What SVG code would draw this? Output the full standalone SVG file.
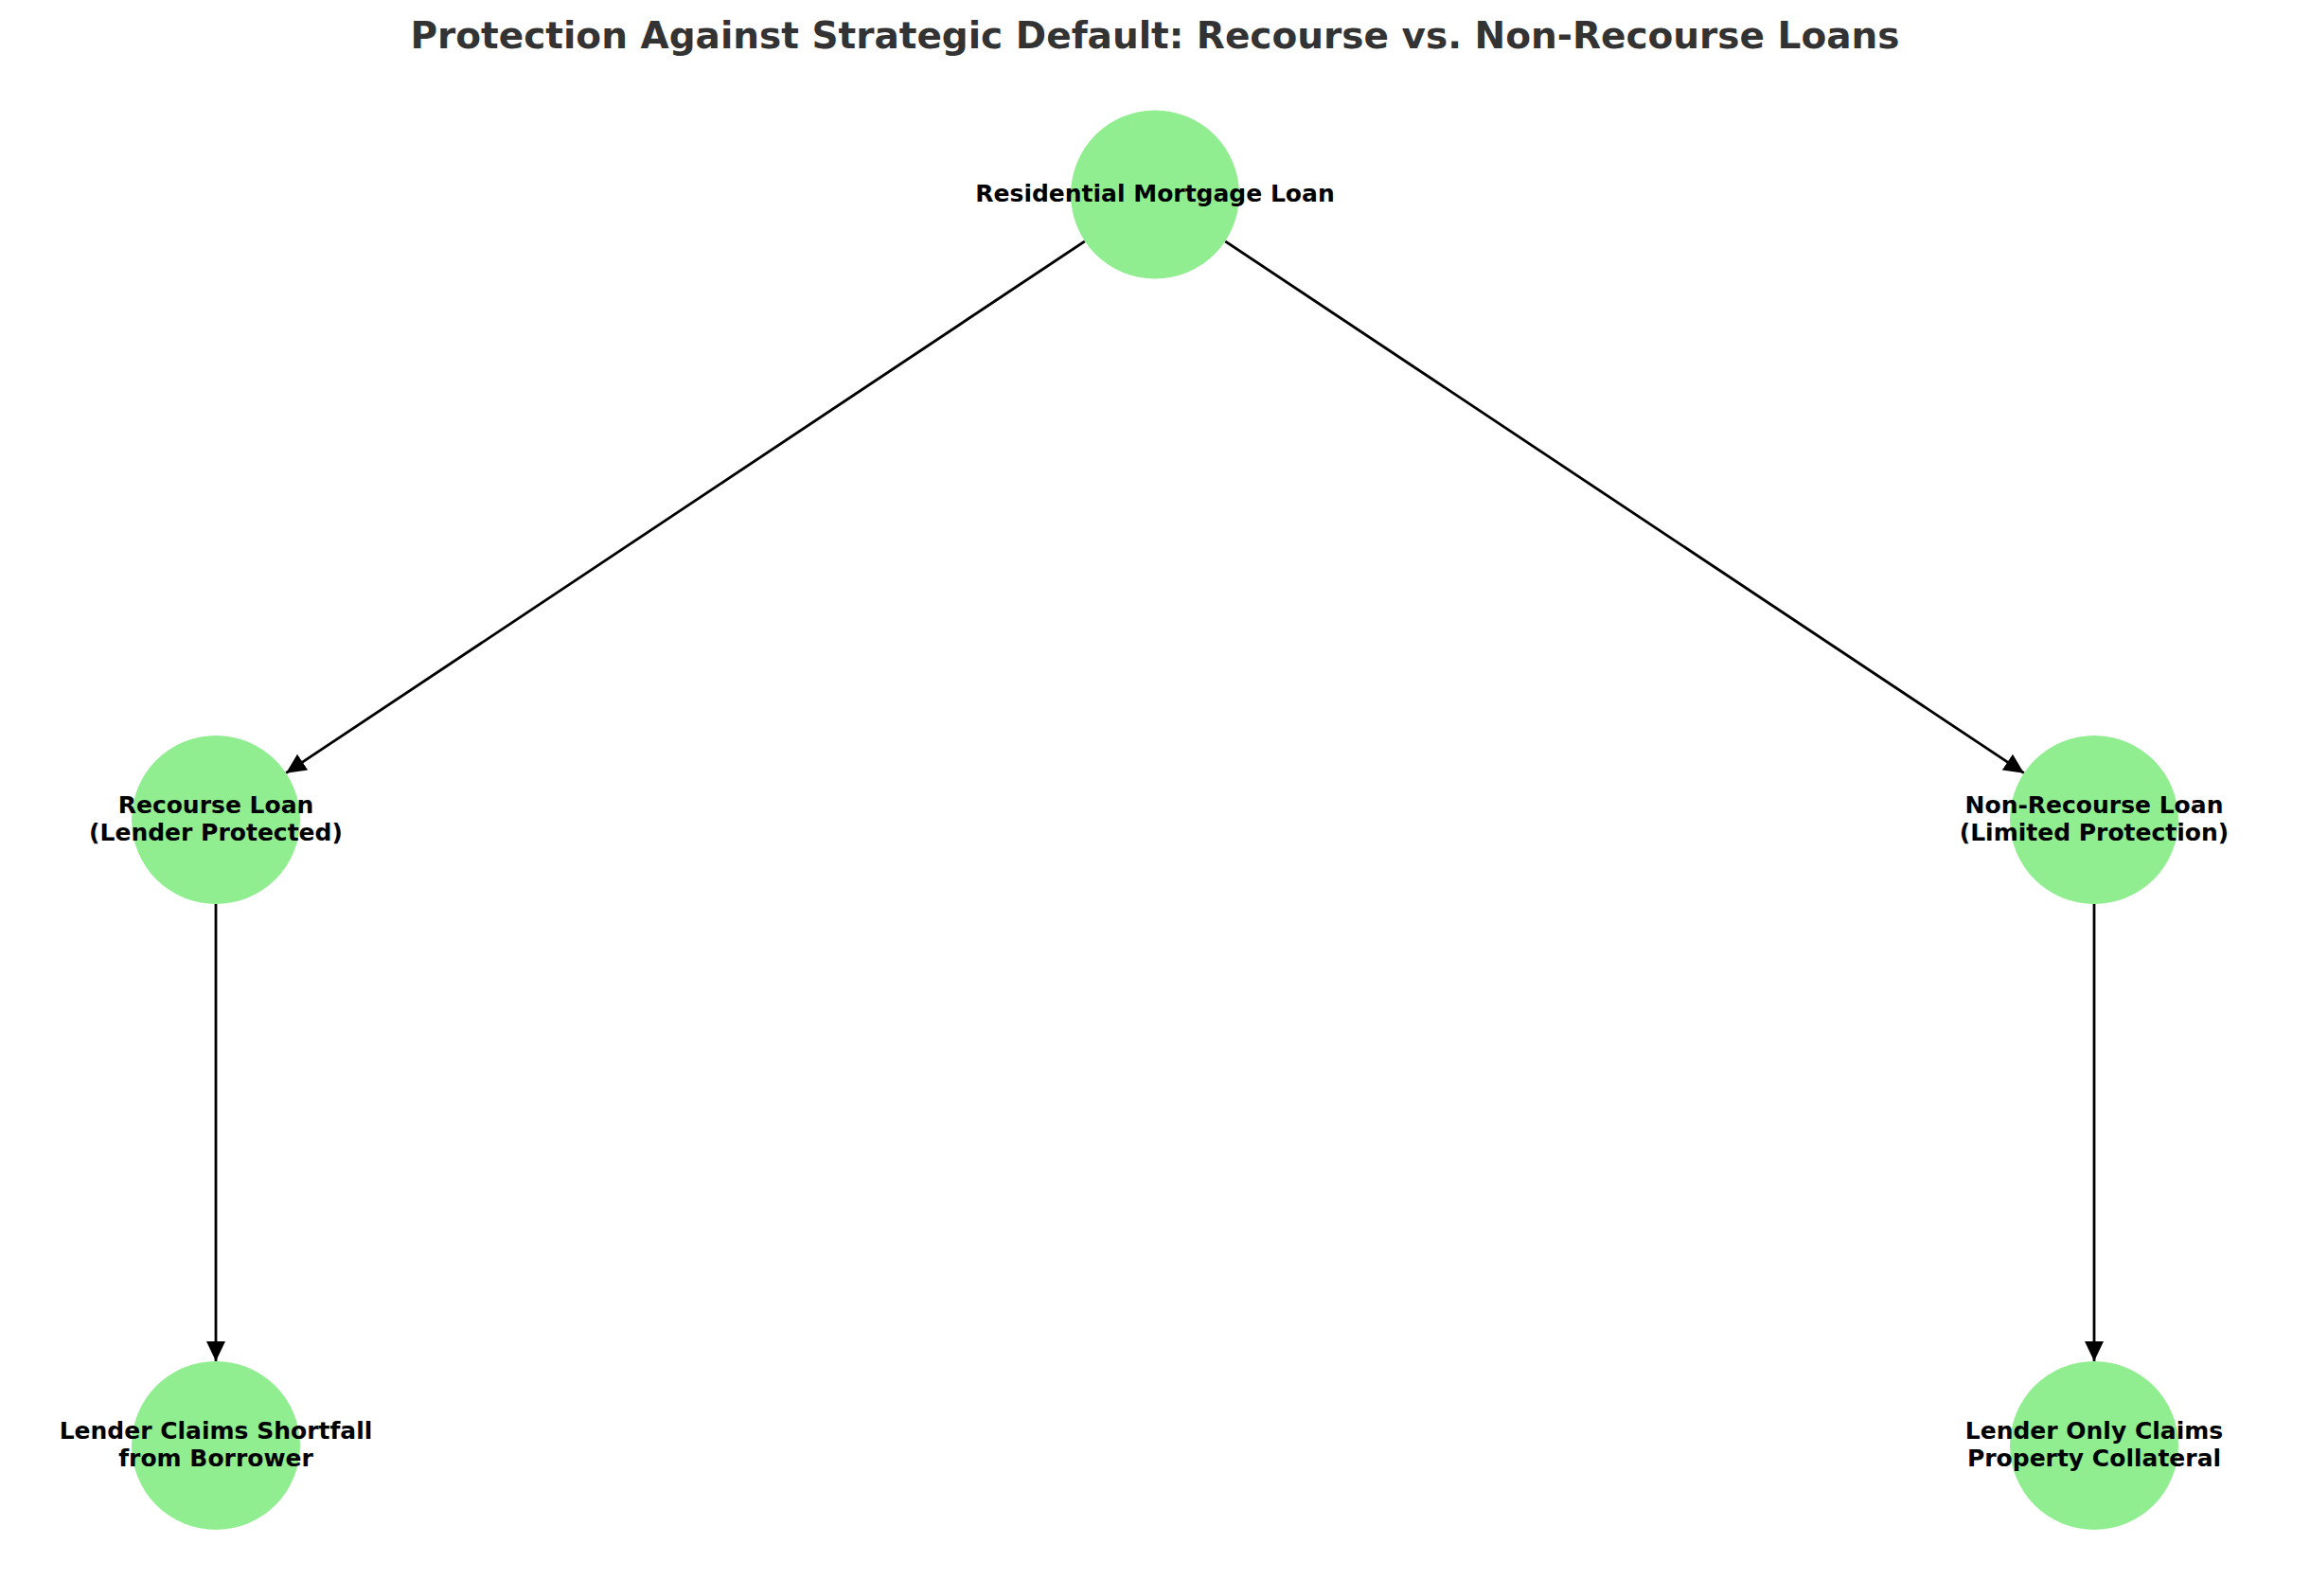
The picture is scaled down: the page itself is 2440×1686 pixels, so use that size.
<svg xmlns="http://www.w3.org/2000/svg" width="2440" height="1686" viewBox="0 0 2440 1686">
<style>
.node{fill:#90EE90;}
.lbl{font-family:"DejaVu Sans","Liberation Sans",sans-serif;font-weight:bold;font-size:25px;fill:#000;text-anchor:middle;}
.title{font-family:"DejaVu Sans","Liberation Sans",sans-serif;font-weight:bold;font-size:39px;fill:#333333;text-anchor:middle;}
.edge{stroke:#000;stroke-width:2.8;fill:none;marker-end:url(#arr);}
</style>
<defs>
<marker id="arr" markerUnits="userSpaceOnUse" markerWidth="21" markerHeight="20" refX="21" refY="10" orient="auto">
<path d="M0,0 L21,10 L0,20 z" fill="#000"/>
</marker>
</defs>
<rect width="2440" height="1686" fill="#fff"/>
<text class="title" x="1220" y="51">Protection Against Strategic Default: Recourse vs. Non-Recourse Loans</text>
<g id="connectors">
<line class="edge" x1="1145.9" y1="254.8" x2="302.1" y2="816.7"/>
<line class="edge" x1="1294.1" y1="254.8" x2="2137.9" y2="816.7"/>
<line class="edge" x1="228" y1="955" x2="228" y2="1438"/>
<line class="edge" x1="2212" y1="955" x2="2212" y2="1438"/>
</g>
<g id="n-residential">
<circle class="node" cx="1220" cy="205.5" r="89"/>
<text class="lbl" x="1220" y="213">Residential Mortgage Loan</text>
</g>
<g id="n-recourse">
<circle class="node" cx="228" cy="866" r="89"/>
<text class="lbl" x="228" y="859">Recourse Loan</text>
<text class="lbl" x="228" y="888">(Lender Protected)</text>
</g>
<g id="n-nonrecourse">
<circle class="node" cx="2212" cy="866" r="89"/>
<text class="lbl" x="2212" y="859">Non-Recourse Loan</text>
<text class="lbl" x="2212" y="888">(Limited Protection)</text>
</g>
<g id="n-shortfall">
<circle class="node" cx="228" cy="1527" r="89"/>
<text class="lbl" x="228" y="1520">Lender Claims Shortfall</text>
<text class="lbl" x="228" y="1549">from Borrower</text>
</g>
<g id="n-collateral">
<circle class="node" cx="2212" cy="1527" r="89"/>
<text class="lbl" x="2212" y="1520">Lender Only Claims</text>
<text class="lbl" x="2212" y="1549">Property Collateral</text>
</g>
</svg>
